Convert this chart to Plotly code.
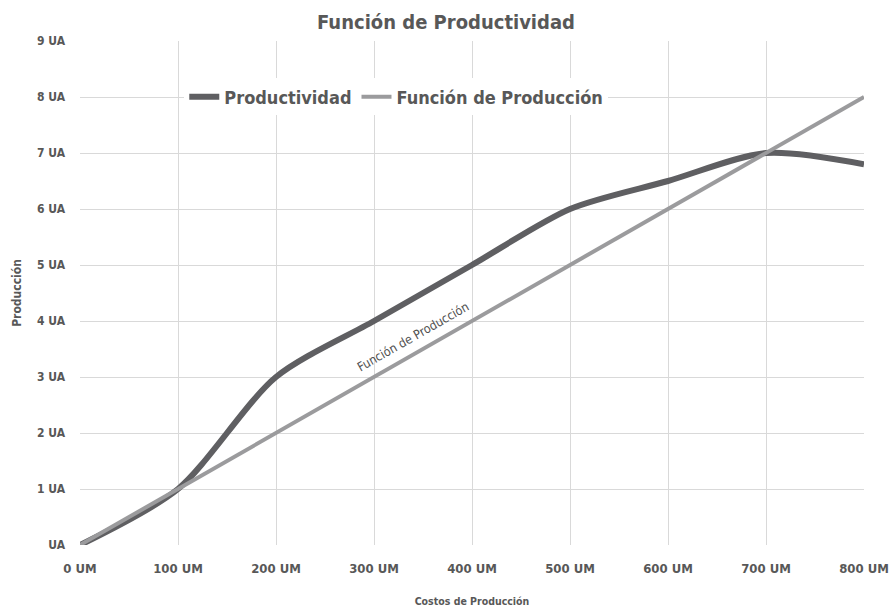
import plotly.graph_objects as go

costos = [0, 100, 200, 300, 400, 500, 600, 700, 800]
productividad = [0, 1, 3, 4, 5, 6, 6.5, 7, 6.8]
funcion_produccion = [0, 1, 2, 3, 4, 5, 6, 7, 8]
x_ticks = [0, 100, 200, 300, 400, 500, 600, 700, 800]
x_labels = ["0 UM", "100 UM", "200 UM", "300 UM", "400 UM", "500 UM", "600 UM", "700 UM", "800 UM"]
y_ticks = [0, 1, 2, 3, 4, 5, 6, 7, 8, 9]
y_labels = ["UA", "1 UA", "2 UA", "3 UA", "4 UA", "5 UA", "6 UA", "7 UA", "8 UA", "9 UA"]

FONT = "DejaVu Sans Condensed, Liberation Sans Narrow, sans-serif"
TXT = "#585858"

fig = go.Figure()
fig.add_trace(go.Scatter(
    x=costos, y=productividad, name="<b>Productividad</b>", mode="lines",
    line=dict(color="#5f5f62", width=6, shape="spline", smoothing=0.8),
))
fig.add_trace(go.Scatter(
    x=costos, y=funcion_produccion, name="<b>Función de Producción</b>", mode="lines",
    line=dict(color="#9b9b9d", width=4),
))

fig.add_annotation(
    x=340, y=3.72, text="Función de Producción", showarrow=False,
    textangle=-29.7, font=dict(family=FONT, size=12.5, color="#505050"),
)

fig.update_layout(
    width=892, height=611,
    margin=dict(l=80, r=28, t=41, b=66),
    paper_bgcolor="white", plot_bgcolor="white",
    title=dict(text="<b>Función de Productividad</b>", x=0.5, xanchor="center",
               y=0.964, yanchor="middle",
               font=dict(family=FONT, size=20, color=TXT)),
    font=dict(family=FONT, color=TXT),
    showlegend=True,
    legend=dict(orientation="h", x=0.133, y=0.889, xanchor="left", yanchor="middle",
                bgcolor="white", font=dict(family=FONT, size=18, color=TXT),
                itemwidth=30, tracegroupgap=0),
    xaxis=dict(range=[0, 800], tickvals=x_ticks, ticktext=["<b>%s</b>" % t for t in x_labels],
               showgrid=True, gridcolor="#d9d9d9", gridwidth=1, zeroline=False,
               showline=False, ticks="", ticklabelstandoff=14, automargin=False,
               tickfont=dict(family=FONT, size=13, color=TXT),
               title=dict(text="<b>Costos de Producción</b>", standoff=22,
                          font=dict(family=FONT, size=10.5, color=TXT))),
    yaxis=dict(range=[0, 9], tickvals=y_ticks, ticktext=["<b>%s</b>" % t for t in y_labels],
               showgrid=True, gridcolor="#d9d9d9", gridwidth=1, zeroline=False,
               showline=False, ticks="", ticklabelstandoff=14, automargin=False,
               tickfont=dict(family=FONT, size=12, color=TXT),
               title=dict(text="<b>Producción</b>", standoff=12,
                          font=dict(family=FONT, size=12, color=TXT))),
)

fig.write_html(
    "out.html",
    config={"displayModeBar": False},
    post_script="document.body.style.margin='0';document.body.style.overflow='hidden';",
)
